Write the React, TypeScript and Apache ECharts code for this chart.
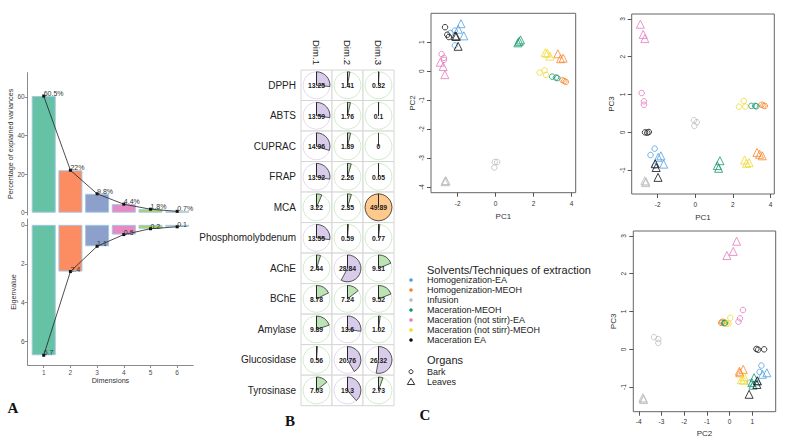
import React, { useEffect, useRef } from 'react';
import * as echarts from 'echarts';

// ---------- Panel A data ----------
const dimensions = [1, 2, 3, 4, 5, 6];
const explainedVariance = [60.5, 22, 9.8, 4.4, 1.8, 0.7];
const eigenvalues = [6.7, 2.4, 1.1, 0.5, 0.2, 0.1];
const varianceTicks = [0, 20, 40, 60];
const eigenTicks = [0, 2, 4, 6];

// ---------- Panel B data ----------
const variables = ['DPPH', 'ABTS', 'CUPRAC', 'FRAP', 'MCA', 'Phosphomolybdenum', 'AChE', 'BChE', 'Amylase', 'Glucosidase', 'Tyrosinase'];
const contribDims = ['Dim.1', 'Dim.2', 'Dim.3'];
const contribDim1 = [13.25, 13.59, 14.96, 13.92, 3.22, 13.55, 2.44, 8.78, 9.89, 0.56, 7.03];
const contribDim2 = [1.41, 1.76, 1.89, 2.26, 2.35, 0.59, 28.84, 7.24, 13.6, 20.76, 19.3];
const contribDim3 = [0.32, 0.1, 0, 0.05, 49.89, 0.77, 9.31, 9.52, 1.02, 26.32, 2.73];

// ---------- Panel C data: [PC1, PC2, PC3] ----------
const solventGroups = ['Homogenization-EA', 'Homogenization-MEOH', 'Infusion', 'Maceration-MEOH', 'Maceration (not stirr)-EA', 'Maceration (not stirr)-MEOH', 'Maceration EA'];
const homogEABark = [[-2.38, 1.32, -0.6], [-2.16, 1.4, -0.43], [-2.15, 0.89, -0.88]];
const homogEALeaves = [[-1.83, 1.64, -0.62], [-1.97, 1.45, -0.66], [-1.68, 1.22, -0.84]];
const homogMEOHBark = [[3.52, -0.31, 0.73], [3.62, -0.34, 0.71], [3.7, -0.37, 0.7]];
const homogMEOHLeaves = [[3.28, 0.6, -0.53], [3.42, 0.43, -0.58], [3.56, 0.45, -0.62]];
const infusionBark = [[-0.07, -3.33, 0.32], [0.08, -3.14, 0.27], [-0.05, -3.14, 0.17]];
const infusionLeaves = [[-2.68, -3.82, -1.28], [-2.64, -3.78, -1.33], [-2.62, -3.8, -1.31]];
const macMEOHBark = [[2.98, -0.19, 0.7], [3.18, -0.22, 0.7], [3.25, -0.24, 0.69]];
const macMEOHLeaves = [[1.31, 1.08, -0.75], [1.17, 0.98, -0.88], [1.24, 1.03, -0.95]];
const macNsEABark = [[-2.85, 0.59, 1.04], [-2.73, 0.46, 0.82], [-2.73, 0.39, 0.73]];
const macNsEALeaves = [[-2.92, 0.31, 2.86], [-2.77, 0.16, 2.59], [-2.68, -0.12, 2.48]];
const macNsMEOHBark = [[2.32, -0.05, 0.68], [2.58, 0.03, 0.83], [2.66, -0.13, 0.68]];
const macNsMEOHLeaves = [[2.62, 0.64, -0.73], [2.72, 0.62, -0.82], [2.86, 0.52, -0.8]];
const macEABark = [[-2.67, 1.52, 0.0], [-2.55, 1.26, -0.01], [-2.47, 1.18, 0.01]];
const macEALeaves = [[-2.13, 1.22, -0.83], [-2.08, 1.2, -0.93], [-1.98, 0.86, -1.19]];
const barkScores = [homogEABark, homogMEOHBark, infusionBark, macMEOHBark, macNsEABark, macNsMEOHBark, macEABark];
const leavesScores = [homogEALeaves, homogMEOHLeaves, infusionLeaves, macMEOHLeaves, macNsEALeaves, macNsMEOHLeaves, macEALeaves];
const pcNames = ['PC1', 'PC2', 'PC3'];
const pcTicks = [[-2, 0, 2, 4], [-4, -3, -2, -1, 0, 1], [-1, 0, 1, 2, 3]];

// ---------- styles ----------
const FONT = '"Liberation Sans", Arial, sans-serif';
const SERIF = '"Liberation Serif", "Times New Roman", serif';
const barColors = ['#66C2A5', '#FC8D62', '#8DA0CB', '#E78AC3', '#A6D854', '#FFD92F'];
const groupColors = ['#4F9FE3', '#F7862A', '#BDBDBD', '#159A6B', '#E57BBE', '#F0DA2A', '#111111'];
const PIE = {
  green: { fill: '#BCE3B4', ring: '#C5E7BF' },
  purple: { fill: '#D9CCEA', ring: '#DCD0EA' },
  orange: { fill: '#FDC98C', ring: '#F3B877' },
};

function buildOption() {
  const maxContrib = Math.max(...contribDim1, ...contribDim2, ...contribDim3);
  const contribMatrix = [contribDim1, contribDim2, contribDim3];
  const contribData: number[][] = [];
  contribMatrix.forEach((col, xi) => col.forEach((v, yi) => contribData.push([xi, yi, v])));

  const axisGray = '#8a8a8a';
  const labelA = { position: 'top', align: 'left', distance: 0, offset: [0, 2.5], fontSize: 7, color: '#333', fontFamily: FONT };

  const scatterGrids = [
    { left: 431, top: 13.3, width: 144.7, height: 179.4 },
    { left: 631.7, top: 14, width: 142.6, height: 180 },
    { left: 633.3, top: 231, width: 142.4, height: 180.7 },
  ];
  const scatterPlots = [
    { a: 0, b: 1, xr: [-3.41, 4.22], yr: [-4.2, 2.0], xGap: 20, yGap: 15, xMargin: 7 },
    { a: 0, b: 2, xr: [-3.38, 4.2], yr: [-1.63, 3.13], xGap: 19, yGap: 16, xMargin: 7 },
    { a: 1, b: 2, xr: [-4.24, 2.03], yr: [-1.65, 3.13], xGap: 18, yGap: 16, xMargin: 6 },
  ];

  const grids: any[] = [
    { left: 27.7, top: 72.7, width: 165.5, height: 142.3 },
    { left: 27.7, top: 219, width: 165.5, height: 146 },
    { left: 301, top: 70, width: 93, height: 335.7 },
    ...scatterGrids.map((g) => ({ ...g, show: true, borderColor: '#666', borderWidth: 1, backgroundColor: 'transparent' })),
  ].map((g) => ({ ...g, containLabel: false, outerBoundsMode: 'none' }));

  const xAxes: any[] = [
    { type: 'value', gridIndex: 0, min: 0.4, max: 6.6, show: false, splitLine: { show: false } },
    {
      type: 'value', gridIndex: 1, min: 0.4, max: 6.6,
      axisLine: { show: true, onZero: false, lineStyle: { color: axisGray, width: 1 } },
      axisTick: { show: true, length: 3, customValues: dimensions, lineStyle: { color: axisGray } },
      axisLabel: { customValues: dimensions, fontSize: 6.5, color: '#4d4d4d', margin: 4, fontFamily: FONT },
      splitLine: { show: false },
      name: 'Dimensions', nameLocation: 'middle', nameGap: 11,
      nameTextStyle: { fontSize: 7.2, color: '#333', fontFamily: FONT },
    },
    {
      type: 'category', gridIndex: 2, data: contribDims, position: 'top',
      axisLine: { show: false }, axisTick: { show: false },
      axisLabel: { rotate: 90, fontSize: 9.6, color: '#222', margin: 5, fontFamily: FONT },
      splitLine: { show: false },
    },
  ];
  const yAxes: any[] = [
    {
      type: 'value', gridIndex: 0, min: -1.2, max: 72.6,
      axisLine: { show: true, onZero: false, lineStyle: { color: axisGray } },
      axisTick: { show: true, length: 3, customValues: varianceTicks, lineStyle: { color: axisGray } },
      axisLabel: { customValues: varianceTicks, fontSize: 6.5, color: '#4d4d4d', margin: 3, fontFamily: FONT },
      splitLine: { show: false },
      name: 'Percentage of explained variances', nameLocation: 'middle', nameGap: 11,
      nameTextStyle: { fontSize: 7.2, color: '#333', fontFamily: FONT },
    },
    {
      type: 'value', gridIndex: 1, min: -0.3, max: 7.2, inverse: true,
      axisLine: { show: true, onZero: false, lineStyle: { color: axisGray } },
      axisTick: { show: true, length: 3, customValues: eigenTicks, lineStyle: { color: axisGray } },
      axisLabel: { customValues: eigenTicks, fontSize: 6.5, color: '#4d4d4d', margin: 3, fontFamily: FONT },
      splitLine: { show: false },
      name: 'Eigenvalue', nameLocation: 'middle', nameGap: 9,
      nameTextStyle: { fontSize: 7.2, color: '#333', fontFamily: FONT },
    },
    {
      type: 'category', gridIndex: 2, data: variables, inverse: true,
      axisLine: { show: false }, axisTick: { show: false },
      axisLabel: { fontSize: 10, color: '#222', margin: 5, fontFamily: FONT },
      splitLine: { show: false },
    },
  ];

  scatterPlots.forEach((p, i) => {
    xAxes.push({
      type: 'value', gridIndex: 3 + i, min: p.xr[0], max: p.xr[1], position: 'bottom',
      axisLine: { show: false, onZero: false },
      axisTick: { show: true, length: 4, customValues: pcTicks[p.a], lineStyle: { color: '#555' } },
      axisLabel: { customValues: pcTicks[p.a], fontSize: 6.5, color: '#333', margin: p.xMargin, fontFamily: FONT },
      splitLine: { show: false },
      name: pcNames[p.a], nameLocation: 'middle', nameGap: p.xGap,
      nameTextStyle: { fontSize: 8, color: '#333', fontFamily: FONT },
    });
    yAxes.push({
      type: 'value', gridIndex: 3 + i, min: p.yr[0], max: p.yr[1], position: 'left',
      axisLine: { show: false, onZero: false },
      axisTick: { show: true, length: 4, customValues: pcTicks[p.b], lineStyle: { color: '#555' } },
      axisLabel: { customValues: pcTicks[p.b], rotate: 90, fontSize: 6.5, color: '#333', margin: 6, fontFamily: FONT },
      splitLine: { show: false },
      name: pcNames[p.b], nameLocation: 'middle', nameGap: p.yGap,
      nameTextStyle: { fontSize: 8, color: '#333', fontFamily: FONT },
    });
  });

  const series: any[] = [
    {
      type: 'bar', xAxisIndex: 0, yAxisIndex: 0, barWidth: 24, silent: true,
      data: explainedVariance.map((v, i) => ({ value: [dimensions[i], v], itemStyle: { color: barColors[i] } })),
      itemStyle: { borderColor: '#A3C6E2', borderWidth: 1 },
    },
    {
      type: 'line', xAxisIndex: 0, yAxisIndex: 0, silent: true,
      data: explainedVariance.map((v, i) => [dimensions[i], v]),
      symbol: 'rect', symbolSize: 3, itemStyle: { color: '#111' }, lineStyle: { color: '#222', width: 0.8 },
      label: { show: true, ...labelA, formatter: (p: any) => `${p.value[1]}%` },
      z: 5,
    },
    {
      type: 'bar', xAxisIndex: 1, yAxisIndex: 1, barWidth: 24, silent: true,
      data: eigenvalues.map((v, i) => ({ value: [dimensions[i], v], itemStyle: { color: barColors[i] } })),
      itemStyle: { borderColor: '#A3C6E2', borderWidth: 1 },
    },
    {
      type: 'line', xAxisIndex: 1, yAxisIndex: 1, silent: true,
      data: eigenvalues.map((v, i) => [dimensions[i], v]),
      symbol: 'rect', symbolSize: 3, itemStyle: { color: '#111' }, lineStyle: { color: '#222', width: 0.8 },
      label: { show: true, ...labelA, formatter: (p: any) => `${p.value[1]}` },
      z: 5,
    },
    {
      type: 'custom', xAxisIndex: 2, yAxisIndex: 2, silent: true,
      data: contribData,
      encode: { x: 0, y: 1 },
      renderItem: (params: any, api: any) => {
        const xi = api.value(0);
        const yi = api.value(1);
        const v = api.value(2);
        const c = api.coord([xi, yi]);
        const s = api.size([1, 1]);
        const r = Math.min(s[0], s[1]) * 0.44;
        const frac = v / maxContrib;
        const pal = v < 10 ? PIE.green : v < 40 ? PIE.purple : PIE.orange;
        const start = -Math.PI / 2;
        const children: any[] = [
          { type: 'rect', shape: { x: c[0] - s[0] / 2, y: c[1] - s[1] / 2, width: s[0], height: s[1] }, style: { fill: '#fff', stroke: '#d6d6d6', lineWidth: 1 } },
          { type: 'circle', shape: { cx: c[0], cy: c[1], r }, style: { fill: 'none', stroke: pal.ring, lineWidth: 0.8 } },
        ];
        if (frac > 0.0005) {
          children.push({
            type: 'sector',
            shape: { cx: c[0], cy: c[1], r0: 0, r, startAngle: start, endAngle: start + Math.min(frac, 0.9999) * Math.PI * 2, clockwise: true },
            style: { fill: pal.fill, stroke: '#333', lineWidth: 0.8 },
          });
        }
        children.push({ type: 'line', shape: { x1: c[0], y1: c[1], x2: c[0], y2: c[1] - r }, style: { stroke: '#222', lineWidth: 0.9 } });
        children.push({
          type: 'text',
          style: { text: String(v), x: c[0], y: c[1] + 0.5, align: 'center', verticalAlign: 'middle', textAlign: 'center', textVerticalAlign: 'middle', font: `bold 6.8px ${FONT}`, fill: '#1a1a1a' },
        });
        return { type: 'group', children };
      },
    },
  ];

  scatterPlots.forEach((p, i) => {
    solventGroups.forEach((g, gi) => {
      [barkScores[gi], leavesScores[gi]].forEach((scores, oi) => {
        series.push({
          type: 'scatter', name: `${g} ${oi === 0 ? 'Bark' : 'Leaves'}`,
          xAxisIndex: 3 + i, yAxisIndex: 3 + i, silent: true,
          symbol: oi === 0 ? 'circle' : 'triangle',
          symbolSize: oi === 0 ? 5.5 : 8,
          data: scores.map((s) => [s[p.a], s[p.b]]),
          itemStyle: { color: 'rgba(255,255,255,0)', borderColor: groupColors[gi], borderWidth: 1 },
        });
      });
    });
  });

  const graphics: any[] = [
    { type: 'text', style: { text: 'A', x: 13, y: 408, font: `bold 15px ${SERIF}`, fill: '#111', align: 'center', verticalAlign: 'middle', textAlign: 'center', textVerticalAlign: 'middle' } },
    { type: 'text', style: { text: 'B', x: 290, y: 421, font: `bold 15px ${SERIF}`, fill: '#111', align: 'center', verticalAlign: 'middle', textAlign: 'center', textVerticalAlign: 'middle' } },
    { type: 'text', style: { text: 'C', x: 425, y: 415, font: `bold 15px ${SERIF}`, fill: '#111', align: 'center', verticalAlign: 'middle', textAlign: 'center', textVerticalAlign: 'middle' } },
    { type: 'text', style: { text: 'Solvents/Techniques of extraction', x: 427, y: 270, font: `11px ${FONT}`, fill: '#222', align: 'left', verticalAlign: 'middle', textAlign: 'left', textVerticalAlign: 'middle' } },
    { type: 'text', style: { text: 'Organs', x: 427, y: 360, font: `11px ${FONT}`, fill: '#222', align: 'left', verticalAlign: 'middle', textAlign: 'left', textVerticalAlign: 'middle' } },
  ];
  solventGroups.forEach((g, gi) => {
    const y = 280 + gi * 10;
    graphics.push({ type: 'circle', shape: { cx: 411, cy: y, r: 1.8 }, style: { fill: groupColors[gi] } });
    graphics.push({ type: 'text', style: { text: g, x: 427, y, font: `9px ${FONT}`, fill: '#222', align: 'left', verticalAlign: 'middle', textAlign: 'left', textVerticalAlign: 'middle' } });
  });
  graphics.push({ type: 'circle', shape: { cx: 411, cy: 371.7, r: 2 }, style: { fill: 'none', stroke: '#333', lineWidth: 1 } });
  graphics.push({ type: 'text', style: { text: 'Bark', x: 427, y: 371.7, font: `9px ${FONT}`, fill: '#222', align: 'left', verticalAlign: 'middle', textAlign: 'left', textVerticalAlign: 'middle' } });
  graphics.push({ type: 'polygon', shape: { points: [[407.3, 384.5], [414.7, 384.5], [411, 378.3]] }, style: { fill: 'none', stroke: '#333', lineWidth: 1 } });
  graphics.push({ type: 'text', style: { text: 'Leaves', x: 427, y: 381.7, font: `9px ${FONT}`, fill: '#222', align: 'left', verticalAlign: 'middle', textAlign: 'left', textVerticalAlign: 'middle' } });

  return {
    animation: false,
    backgroundColor: '#ffffff',
    textStyle: { fontFamily: FONT },
    grid: grids,
    xAxis: xAxes,
    yAxis: yAxes,
    series,
    graphic: { elements: graphics },
  };
}

export default function App() {
  const ref = useRef<HTMLDivElement>(null);
  useEffect(() => {
    if (!ref.current) return;
    const chart = echarts.init(ref.current, null, { renderer: 'svg' });
    chart.setOption(buildOption() as any);
    return () => chart.dispose();
  }, []);
  return <div ref={ref} style={{ position: 'absolute', left: 0, top: 0, width: 788, height: 447, background: '#fff' }} />;
}
